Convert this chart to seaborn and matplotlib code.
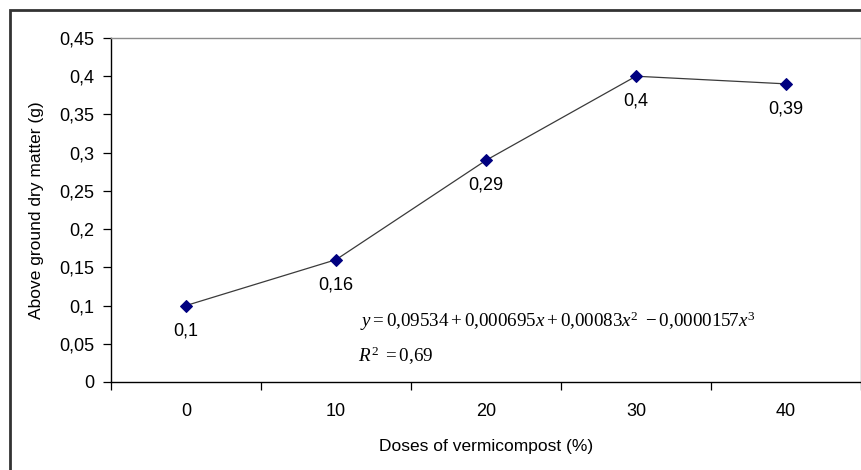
import numpy as np
import seaborn as sns
import matplotlib.pyplot as plt
from matplotlib.patches import Rectangle
from matplotlib.ticker import FuncFormatter, FixedLocator

# chart data
doses = ["0", "10", "20", "30", "40"]
dry_matter = [0.10, 0.16, 0.29, 0.40, 0.39]
y_ticks = [0, 0.05, 0.10, 0.15, 0.20, 0.25, 0.30, 0.35, 0.40, 0.45]
equation = r"$y = 0{,}09534 + 0{,}000695x + 0{,}00083x^2\ - 0{,}0000157x^3$"
r_squared = r"$R^2\ = 0{,}69$"


def comma(v):
    """Format number with decimal comma like the original (Excel, European)."""
    return f"{v:g}".replace(".", ",")


sns.set_theme(style="white")
plt.rcParams["font.family"] = ["Liberation Sans", "DejaVu Sans"]
plt.rcParams["mathtext.fontset"] = "custom"
plt.rcParams["mathtext.rm"] = "Liberation Serif"
plt.rcParams["mathtext.it"] = "Liberation Serif:italic"
plt.rcParams["text.color"] = "black"
plt.rcParams["axes.labelcolor"] = "black"
plt.rcParams["xtick.color"] = "black"
plt.rcParams["ytick.color"] = "black"

fig = plt.figure(figsize=(8.62, 4.70), dpi=100)
ax = fig.add_axes([111 / 862, 1 - 382 / 470, 750 / 862, 344 / 470])

# outer chart border (runs off the right/bottom edges as in the original)
fig.patches.append(
    Rectangle((10 / 862, -0.05), 1.0, 1 - 10 / 470 + 0.05,
              transform=fig.transFigure, fill=False, edgecolor="#333333",
              linewidth=2.0, zorder=0)
)

pos = np.arange(len(doses))
sns.lineplot(x=pos, y=dry_matter, ax=ax, color="#3a3a3a", linewidth=0.9,
             marker="D", markersize=6, markerfacecolor="#000080",
             markeredgecolor="#000080")

# data labels under each point
for xp, v in zip(pos, dry_matter):
    ax.annotate(comma(v), (xp, v), xytext=(0, -18), textcoords="offset points",
                ha="center", va="center", fontsize=13, color="black")

ax.text(0.332, 0.177, equation, transform=ax.transAxes, fontsize=13.7,
        ha="left", va="center")
ax.text(0.329, 0.076, r_squared, transform=ax.transAxes, fontsize=13.7,
        ha="left", va="center")

ax.set_xlim(-0.5, len(doses) - 0.5)
ax.set_ylim(0, 0.45)
ax.set_yticks(y_ticks)
ax.yaxis.set_major_formatter(FuncFormatter(lambda v, p: comma(round(v, 2))))

# categories centred between tick marks, Excel style
ax.set_xticks(pos)
ax.set_xticklabels(doses)
ax.xaxis.set_minor_locator(FixedLocator(np.arange(-0.5, len(doses), 1.0)))
ax.tick_params(axis="x", which="major", length=0, pad=15, labelsize=13)
ax.tick_params(axis="x", which="minor", length=6, width=0.9, color="black",
               direction="out", bottom=True)
ax.tick_params(axis="y", length=6, width=0.9, color="black", direction="out",
               left=True, pad=6, labelsize=13)

ax.set_xlabel("Doses of vermicompost (%)", fontsize=12.5, labelpad=14)
ax.set_ylabel("Above ground dry matter (g)", fontsize=12.5, labelpad=11)

for side in ["left", "bottom"]:
    ax.spines[side].set_color("black")
    ax.spines[side].set_linewidth(1.0)
for side in ["top", "right"]:
    ax.spines[side].set_color("#8c8c8c")
    ax.spines[side].set_linewidth(1.0)

plt.savefig("out.png", dpi=100)
